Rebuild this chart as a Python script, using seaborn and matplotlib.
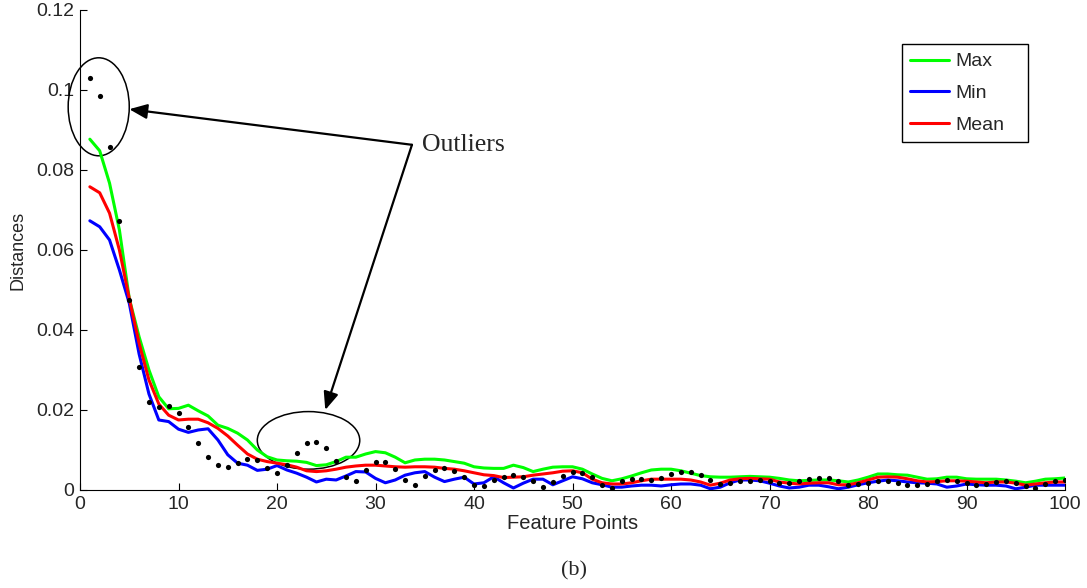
import numpy as np
import pandas as pd
import seaborn as sns
import matplotlib.pyplot as plt
from matplotlib.patches import Ellipse
from matplotlib.ticker import FuncFormatter

# feature point index
points = list(range(1, 101))

# distance of each feature point (black dots)
samples = [0.103, 0.0985, 0.0857, 0.0673, 0.0475, 0.0308, 0.0219, 0.0208, 0.0211, 0.0192,
           0.0157, 0.0118, 0.0083, 0.0062, 0.0058, 0.0068, 0.0077, 0.0074, 0.0056, 0.0043,
           0.0063, 0.0093, 0.0117, 0.0120, 0.0104, 0.0072, 0.0032, 0.0022, 0.0050, 0.0070,
           0.0070, 0.0052, 0.0025, 0.0012, 0.0035, 0.0050, 0.0054, 0.0047, 0.0032, 0.0013,
           0.0011, 0.0024, 0.0033, 0.0037, 0.0032, 0.0022, 0.0007, 0.0020, 0.0035, 0.0045,
           0.0042, 0.0032, 0.0013, 0.0006, 0.0022, 0.0027, 0.0027, 0.0025, 0.0030, 0.0041,
           0.0046, 0.0046, 0.0037, 0.0025, 0.0015, 0.0018, 0.0022, 0.0023, 0.0024, 0.0023,
           0.0018, 0.0018, 0.0023, 0.0028, 0.0031, 0.0029, 0.0022, 0.0013, 0.0015, 0.0018,
           0.0023, 0.0022, 0.0018, 0.0012, 0.0012, 0.0016, 0.0022, 0.0024, 0.0023, 0.0018,
           0.0012, 0.0015, 0.0021, 0.0023, 0.0018, 0.0011, 0.0006, 0.0014, 0.0023, 0.0024]

max_dist = [0.0877, 0.0848, 0.0767, 0.0650, 0.0479, 0.0383, 0.0300, 0.0233, 0.0203, 0.0204,
            0.0212, 0.0198, 0.0185, 0.0162, 0.0154, 0.0142, 0.0125, 0.0100, 0.0083, 0.0075,
            0.0073, 0.0072, 0.0069, 0.0061, 0.0063, 0.0071, 0.0082, 0.0082, 0.0090, 0.0096,
            0.0093, 0.0082, 0.0068, 0.0075, 0.0077, 0.0077, 0.0075, 0.0071, 0.0067, 0.0058,
            0.0055, 0.0054, 0.0054, 0.0062, 0.0056, 0.0046, 0.0052, 0.0057, 0.0058, 0.0058,
            0.0052, 0.0040, 0.0029, 0.0023, 0.0028, 0.0035, 0.0043, 0.0050, 0.0052, 0.0052,
            0.0048, 0.0042, 0.0036, 0.0033, 0.0032, 0.0032, 0.0033, 0.0034, 0.0033, 0.0032,
            0.0029, 0.0025, 0.0023, 0.0024, 0.0025, 0.0025, 0.0023, 0.0020, 0.0025, 0.0032,
            0.0040, 0.0040, 0.0038, 0.0037, 0.0032, 0.0027, 0.0028, 0.0032, 0.0032, 0.0028,
            0.0027, 0.0027, 0.0027, 0.0025, 0.0022, 0.0018, 0.0022, 0.0027, 0.0028, 0.0030]

min_dist = [0.0673, 0.0658, 0.0625, 0.0550, 0.0467, 0.0340, 0.0240, 0.0175, 0.0171, 0.0152,
            0.0144, 0.0150, 0.0153, 0.0125, 0.0088, 0.0067, 0.0062, 0.0049, 0.0052, 0.0061,
            0.0050, 0.0042, 0.0032, 0.0020, 0.0027, 0.0025, 0.0035, 0.0046, 0.0045, 0.0029,
            0.0018, 0.0025, 0.0037, 0.0043, 0.0046, 0.0032, 0.0021, 0.0027, 0.0032, 0.0015,
            0.0018, 0.0033, 0.0018, 0.0005, 0.0017, 0.0027, 0.0027, 0.0013, 0.0023, 0.0033,
            0.0028, 0.0018, 0.0013, 0.0007, 0.0007, 0.0010, 0.0012, 0.0012, 0.0010, 0.0013,
            0.0015, 0.0015, 0.0012, 0.0003, 0.0007, 0.0018, 0.0025, 0.0025, 0.0023, 0.0017,
            0.0010, 0.0005, 0.0007, 0.0012, 0.0012, 0.0008, 0.0003, 0.0007, 0.0013, 0.0018,
            0.0022, 0.0025, 0.0023, 0.0020, 0.0018, 0.0017, 0.0015, 0.0007, 0.0010, 0.0015,
            0.0013, 0.0012, 0.0012, 0.0010, 0.0003, 0.0007, 0.0012, 0.0012, 0.0012, 0.0012]

mean_dist = [0.0758, 0.0743, 0.0692, 0.0600, 0.0479, 0.0367, 0.0275, 0.0215, 0.0187, 0.0175,
             0.0177, 0.0177, 0.0168, 0.0154, 0.0135, 0.0112, 0.0090, 0.0077, 0.0071, 0.0067,
             0.0063, 0.0057, 0.0048, 0.0046, 0.0048, 0.0052, 0.0057, 0.0060, 0.0062, 0.0062,
             0.0060, 0.0058, 0.0057, 0.0058, 0.0058, 0.0057, 0.0054, 0.0052, 0.0048, 0.0043,
             0.0038, 0.0036, 0.0031, 0.0032, 0.0033, 0.0037, 0.0040, 0.0043, 0.0047, 0.0048,
             0.0043, 0.0027, 0.0018, 0.0015, 0.0015, 0.0018, 0.0023, 0.0027, 0.0027, 0.0027,
             0.0027, 0.0025, 0.0020, 0.0012, 0.0017, 0.0025, 0.0028, 0.0029, 0.0028, 0.0027,
             0.0020, 0.0017, 0.0015, 0.0017, 0.0018, 0.0018, 0.0013, 0.0013, 0.0018, 0.0025,
             0.0032, 0.0033, 0.0032, 0.0028, 0.0023, 0.0020, 0.0021, 0.0023, 0.0023, 0.0022,
             0.0020, 0.0018, 0.0020, 0.0020, 0.0017, 0.0012, 0.0015, 0.0018, 0.0020, 0.0020]

x_ticks = [0, 10, 20, 30, 40, 50, 60, 70, 80, 90, 100]
y_ticks = [0, 0.02, 0.04, 0.06, 0.08, 0.1, 0.12]

sns.set_style("ticks")
plt.rcParams['font.family'] = ['Liberation Sans', 'DejaVu Sans']
plt.rcParams['xtick.direction'] = 'in'
plt.rcParams['ytick.direction'] = 'in'

fig = plt.figure(figsize=(10.87, 5.88), dpi=100)
ax = fig.add_axes([0.0736, 0.1667, 0.9062, 0.8163])

sns.lineplot(x=points, y=max_dist, color='#00ff00', linewidth=2.2, label='Max', ax=ax)
sns.lineplot(x=points, y=min_dist, color='#0000ff', linewidth=2.2, label='Min', ax=ax)
sns.lineplot(x=points, y=mean_dist, color='#ff0000', linewidth=2.2, label='Mean', ax=ax)
sns.scatterplot(x=points, y=samples, color='black', s=14, linewidth=0, ax=ax, zorder=5)

ax.set_xlim(0, 100)
ax.set_ylim(0, 0.12)
ax.set_xticks(x_ticks)
ax.set_yticks(y_ticks)
ax.yaxis.set_major_formatter(FuncFormatter(lambda v, p: '%g' % v))
ax.tick_params(labelsize=14, length=5, width=0.8, color='black', pad=4)
sns.despine(ax=ax)
for s in ['left', 'bottom']:
    ax.spines[s].set_color('black')
    ax.spines[s].set_linewidth(0.8)

ax.set_xlabel('Feature Points', fontsize=14.5, labelpad=1)
ax.set_ylabel('Distances', fontsize=13, labelpad=7)

# outlier marks
ax.add_patch(Ellipse((1.9, 0.0958), 6.2, 0.0245, fill=False, edgecolor='black', linewidth=1.1, clip_on=False))
ax.add_patch(Ellipse((23.2, 0.0124), 10.4, 0.0144, fill=False, edgecolor='black', linewidth=1.1))

arrow = dict(arrowstyle='-|>,head_length=0.6,head_width=0.25', color='black',
             linewidth=1.6, mutation_scale=18, shrinkA=0, shrinkB=0)
ax.annotate('', xy=(5.0, 0.0952), xytext=(33.7, 0.0863), arrowprops=arrow)
ax.annotate('', xy=(24.9, 0.0200), xytext=(33.7, 0.0863), arrowprops=arrow)
ax.text(34.7, 0.0863, 'Outliers', fontsize=18.5, family='Liberation Serif', ha='left', va='center')

leg = ax.legend(loc='upper left', bbox_to_anchor=(0.834, 0.7167, 0.1284, 0.2125), mode='expand',
                borderaxespad=0, fontsize=14, frameon=True, fancybox=False, framealpha=1,
                edgecolor='black', handlelength=2.0, handletextpad=0.3, labelspacing=0.72,
                borderpad=0.45)
leg.get_frame().set_linewidth(1.0)

fig.text(0.528, 0.029, '(b)', fontsize=16, family='Liberation Serif', ha='center', va='center')

fig.savefig('out.png', dpi=100)
